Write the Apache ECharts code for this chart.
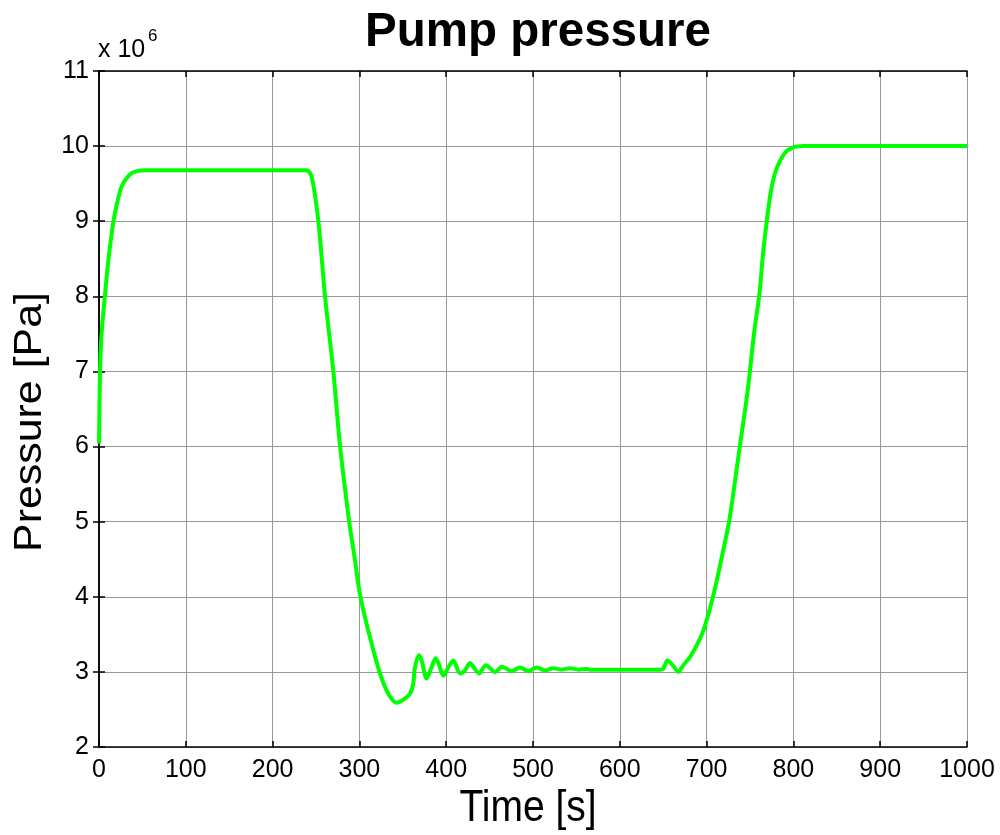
<!DOCTYPE html>
<html>
<head>
<meta charset="utf-8">
<script src="https://cdn.jsdelivr.net/npm/echarts@6/dist/echarts.min.js"></script>
<style>html,body{margin:0;padding:0;background:#fff}#c{width:1000px;height:835px}</style>
</head>
<body>
<div id="c"></div>
<script>
// Time [s]
const times = [0,1.2,3,6.9,11,16.5,21,26,31,37.6,45,53,100,200,239,245,252.7,260.4,270,277.6,288,294.9,300.7,312.2,323.7,333.3,343,350.6,358.3,362,364,368.7,371.7,377.5,383.2,387.8,391,396.7,402.4,408.2,415.9,421.7,427.4,431.2,437.8,445.9,456.2,464.7,475.4,485,494.6,504.2,513.8,523.4,533,542.6,552.2,561.8,565.6,600,646.3,650,655,661.6,667.4,673.2,681,688,696.3,707.8,719.2,726.2,738.5,747.4,755.1,760.8,764.7,769.3,774.3,780,789.6,799.1,812.4,900,1000];
// Pressure [x 10^6 Pa]
const pressure = [6.04,7.0,7.5,8.02,8.5,8.99,9.25,9.46,9.56,9.64,9.67,9.68,9.68,9.68,9.68,9.59,9.0,8.0,7.0,6.02,5.02,4.49,4.03,3.46,2.98,2.71,2.59,2.63,2.71,2.84,3.06,3.22,3.15,2.91,3.06,3.18,3.12,2.95,3.06,3.15,2.98,3.02,3.12,3.07,2.98,3.09,3.0,3.07,3.01,3.06,3.01,3.06,3.02,3.05,3.03,3.05,3.03,3.04,3.03,3.03,3.03,3.04,3.15,3.08,3.0,3.09,3.2,3.34,3.55,4.02,4.62,5.02,6.02,6.75,7.55,8.02,8.53,9.0,9.41,9.68,9.9,9.98,10.0,10.0,10.0];
const xTicks = [0,100,200,300,400,500,600,700,800,900,1000];
const yTicks = [2,3,4,5,6,7,8,9,10,11];

const FONT = 'Liberation Sans, Arial, sans-serif';
const chart = echarts.init(document.getElementById('c'), null, {renderer: 'canvas'});
const data = times.map((t, i) => [t, pressure[i]]);

const axisLine = {show: true, lineStyle: {color: '#000', width: 1.5}};
const tick = {show: true, inside: true, length: 6, lineStyle: {color: '#000', width: 1.5}};
chart.setOption({
  animation: false,
  backgroundColor: '#fff',
  title: {
    text: 'Pump pressure',
    left: 533, top: 4, textAlign: 'center',
    textStyle: {fontFamily: FONT, fontSize: 47.5, fontWeight: 'bold', color: '#000'}
  },
  graphic: [
    {type: 'text', x: 98, y: 50, style: {text: 'x 10', font: '25px ' + FONT, fill: '#000', verticalAlign: 'middle'}},
    {type: 'text', x: 148, y: 36, style: {text: '6', font: '17px ' + FONT, fill: '#000', verticalAlign: 'middle'}},
    {type: 'text', x: 528, y: 809, scaleY: 1.13,
     style: {text: 'Time [s]', font: '39px ' + FONT, fill: '#000', align: 'center', verticalAlign: 'middle'}},
    {type: 'text', x: 30, y: 422, rotation: Math.PI / 2, scaleX: 1.1,
     style: {text: 'Pressure [Pa]', font: '39px ' + FONT, fill: '#000', align: 'center', verticalAlign: 'middle'}}
  ],
  grid: {left: 99, right: 33, top: 71, bottom: 88, show: false},
  xAxis: [{
    type: 'value', min: 0, max: 1000, interval: 100,
    axisLine: axisLine, axisTick: tick,
    axisLabel: {fontFamily: FONT, fontSize: 25, color: '#000', margin: 11, formatter: v => xTicks.includes(v) ? String(v) : ''},
    splitLine: {show: true, lineStyle: {color: '#999', width: 1}}
  }, {
    type: 'value', min: 0, max: 1000, interval: 100, position: 'top',
    axisLine: axisLine, axisTick: tick,
    axisLabel: {show: false}, splitLine: {show: false}
  }],
  yAxis: [{
    type: 'value', min: 2, max: 11, interval: 1,
    axisLine: axisLine, axisTick: tick,
    axisLabel: {fontFamily: FONT, fontSize: 25, color: '#000', margin: 10, formatter: v => yTicks.includes(v) ? String(v) : ''},
    splitLine: {show: true, lineStyle: {color: '#999', width: 1}}
  }, {
    type: 'value', min: 2, max: 11, interval: 1, position: 'right',
    axisLine: axisLine, axisTick: tick,
    axisLabel: {show: false}, splitLine: {show: false}
  }],
  series: [{
    type: 'line', data: data, xAxisIndex: 0, yAxisIndex: 0,
    showSymbol: false, smooth: 0.3,
    lineStyle: {color: '#00ff00', width: 4},
    itemStyle: {color: '#00ff00'}
  }]
});
</script>
</body>
</html>
